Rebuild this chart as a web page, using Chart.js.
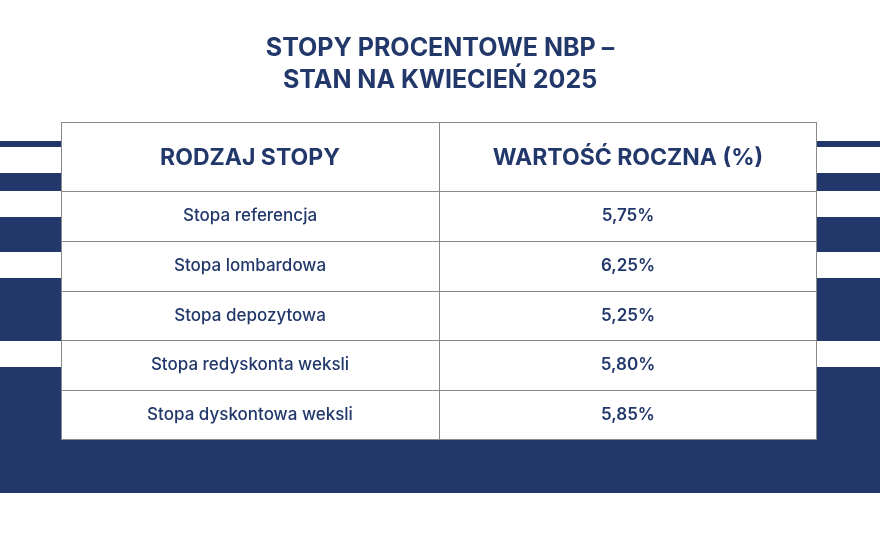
<!DOCTYPE html>
<html><head><meta charset="utf-8">
<script src="https://cdn.jsdelivr.net/npm/chart.js@4"></script>
<style>html,body{margin:0;padding:0;background:#fff}#w{width:880px;height:540px}</style>
</head><body><div id="w"><canvas id="c"></canvas></div>
<script>
const titleLines = ['STOPY PROCENTOWE NBP –', 'STAN NA KWIECIEŃ 2025'];
const headers = ['RODZAJ STOPY', 'WARTOŚĆ ROCZNA (%)'];
const categories = ['Stopa referencja', 'Stopa lombardowa', 'Stopa depozytowa', 'Stopa redyskonta weksli', 'Stopa dyskontowa weksli'];
const values = [5.75, 6.25, 5.25, 5.80, 5.85];
const navy = '#22376a';
const fmt = v => v.toFixed(2).replace('.', ',') + '%';

const tablePlugin = {
  id: 'table',
  beforeDraw(chart) {
    const ctx = chart.ctx;
    ctx.save();
    ctx.fillStyle = '#fff'; ctx.fillRect(0,0,chart.width,chart.height);
    ctx.fillStyle = navy;
    [[141,147],[173,191],[217,252],[278,341],[367,493]].forEach(([a,b]) => ctx.fillRect(0,a,880,b-a));
    ctx.restore();
  },
  afterDraw(chart) {
    const ctx = chart.ctx, y = chart.scales.y, a = chart.chartArea;
    const left = a.left, right = a.right, mid = 439, top = 122;
    ctx.save();
    ctx.fillStyle = '#fff';
    ctx.fillRect(left, top, right-left, a.bottom-top);
    ctx.strokeStyle = '#8a8a8a'; ctx.lineWidth = 1;
    ctx.strokeRect(left+0.5, top+0.5, right-left-1, a.bottom-top-1);
    ctx.beginPath(); ctx.moveTo(mid+0.5, top); ctx.lineTo(mid+0.5, a.bottom); ctx.stroke();
    const half = (y.getPixelForValue(1) - y.getPixelForValue(0)) / 2;
    categories.forEach((c, i) => {
      const cy = y.getPixelForValue(i);
      ctx.beginPath(); ctx.moveTo(left, Math.round(cy-half)+0.5); ctx.lineTo(right, Math.round(cy-half)+0.5); ctx.stroke();
      ctx.fillStyle = navy; ctx.textAlign = 'center'; ctx.textBaseline = 'middle';
      ctx.font = '500 17px Inter, "Open Sans", sans-serif';
      ctx.fillText(c, (left+mid)/2, cy);
      ctx.font = '600 17px Inter, "Open Sans", sans-serif';
      ctx.fillText(fmt(chart.data.datasets[0].data[i]), (mid+right)/2, cy);
    });
    ctx.fillStyle = navy; ctx.textAlign = 'center'; ctx.textBaseline = 'middle';
    ctx.font = '700 23px Inter, "Open Sans", sans-serif';
    ctx.fillText(headers[0], (left+mid)/2, 158);
    ctx.fillText(headers[1], (mid+right)/2, 158);
    ctx.font = '700 25px Inter, "Open Sans", sans-serif';
    ctx.fillText(titleLines[0], 440, 48);
    ctx.fillText(titleLines[1], 440, 80);
    ctx.restore();
  }
};

new Chart(document.getElementById('c'), {
  type: 'bar',
  data: { labels: categories, datasets: [{ data: values, backgroundColor: 'rgba(0,0,0,0)' }] },
  options: {
    indexAxis: 'y', responsive: true, maintainAspectRatio: false, animation: false,
    layout: { padding: { left: 61, right: 63, top: 191, bottom: 100 } },
    plugins: { legend: { display: false }, tooltip: { enabled: false } },
    scales: { x: { display: false, min: 0, max: 10 }, y: { display: false } }
  },
  plugins: [tablePlugin]
});
</script></body></html>
